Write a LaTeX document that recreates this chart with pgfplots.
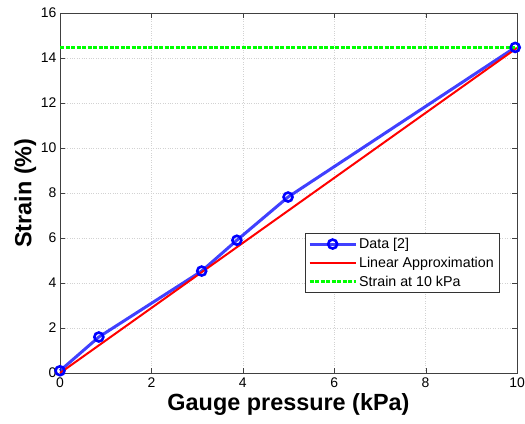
\documentclass[border=0pt]{standalone}
\usepackage{pgfplots}
\pgfplotsset{compat=1.18}
\usepackage{fontspec}
\setmainfont{Liberation Sans}
\begin{document}
\begin{tikzpicture}[x=1bp,y=1bp]
\path[use as bounding box] (0,0) rectangle (525,423);
\begin{axis}[
  at={(60bp,50bp)}, anchor=south west,
  width=457bp, height=360bp, scale only axis,
  xmin=0, xmax=10, ymin=0, ymax=16,
  xtick={0,2,...,10}, ytick={0,2,...,16},
  tick align=inside, major tick length=5bp,
  grid=major, major grid style={gray!35, dotted},
  axis line style={gray!50!black, line width=0.8bp},
  tick style={gray!50!black},
  /pgf/number format/assume math mode=true,
  ticklabel style={font=\fontsize{14}{16}\selectfont},
  xticklabel style={yshift=-1bp},
  xlabel={\textbf{Gauge pressure (kPa)}},
  ylabel={\textbf{Strain (\%)}},
  label style={font=\fontsize{23.5}{26}\selectfont},
  xlabel style={yshift=1bp},
  ylabel style={yshift=-2bp},
  legend style={at={(0.536,0.389)}, anchor=north west, draw=gray!40!black, font=\fontsize{14.3}{16}\selectfont, row sep=3bp, inner sep=3bp},
  legend cell align=left,
  legend image code/.code={\draw[mark repeat=2,mark phase=2,#1] plot coordinates {(0bp,0bp) (23bp,0bp) (46bp,0bp)};},
  clip=false,
]
\addplot[blue, line width=3bp, opacity=0.75, mark=o, mark size=4.5bp, mark options={line width=2.6bp, opacity=1}] coordinates {
(0,0.1) (0.85,1.6) (3.1,4.53) (3.87,5.9) (4.99,7.82) (9.96,14.47)
};
\addlegendentry{Data [2]}
\addplot[red, line width=2bp] coordinates {(0,0) (10,14.45)};
\addlegendentry{Linear Approximation}
\addplot[green, line width=3bp, dash pattern=on 4bp off 1.5bp] coordinates {(0,14.47) (10,14.47)};
\addlegendentry{Strain at 10 kPa}
\end{axis}
\end{tikzpicture}
\end{document}
